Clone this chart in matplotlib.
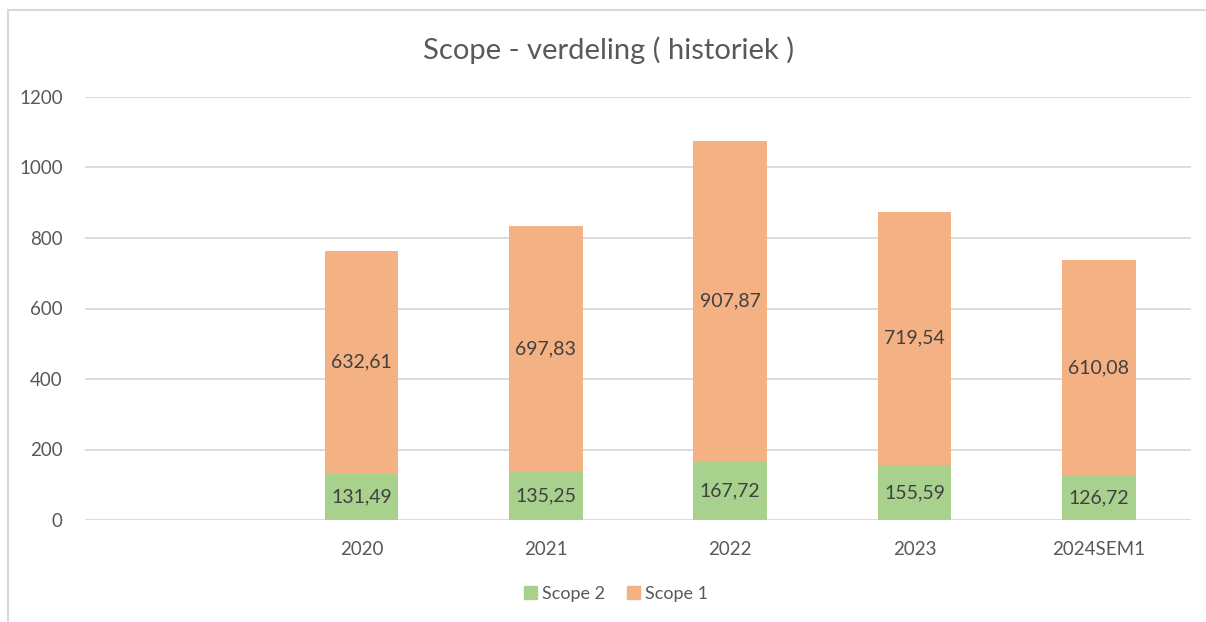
import numpy as np
import matplotlib
matplotlib.use("Agg")
import matplotlib.pyplot as plt
from matplotlib.lines import Line2D
from matplotlib.patches import Patch

categories = ["", "2020", "2021", "2022", "2023", "2024SEM1"]
scope2 = [np.nan, 131.49, 135.25, 167.72, 155.59, 126.72]
scope1 = [np.nan, 632.61, 697.83, 907.87, 719.54, 610.08]
yticks = [0, 200, 400, 600, 800, 1000, 1200]

GREEN = "#A9D18E"
ORANGE = "#F4B183"
TXT = "#595959"
GRID = "#D9D9D9"

plt.rcParams['font.family'] = ['Lato', 'DejaVu Sans']

fig = plt.figure(figsize=(12.06, 6.22), dpi=100)
ax = fig.add_axes([85/1206, 1-520/622, (1191-85)/1206, (520-97)/622])

x = np.arange(len(categories))
s2 = np.array(scope2, dtype=float)
s1 = np.array(scope1, dtype=float)
w = 0.4
ax.bar(x, s2, width=w, color=GREEN, label="Scope 2", zorder=3)
ax.bar(x, s1, width=w, bottom=s2, color=ORANGE, label="Scope 1", zorder=3)

def fmt(v):
    return f"{v:.2f}".replace(".", ",")

for xi, a, b in zip(x, s2, s1):
    if np.isnan(a):
        continue
    ax.text(xi, a/2, fmt(a), ha="center", va="center", fontsize=14, color="#404040", zorder=4)
    ax.text(xi, a + b/2, fmt(b), ha="center", va="center", fontsize=14, color="#404040", zorder=4)

ax.set_xlim(-0.5, len(categories)-0.5)
ax.set_ylim(0, 1200)
ax.set_yticks(yticks)
ax.set_yticklabels([str(t) for t in yticks])
ax.set_xticks(x)
ax.set_xticklabels(categories)
ax.tick_params(axis="both", length=0, labelsize=13.5, colors=TXT)
ax.tick_params(axis="y", pad=16)
ax.tick_params(axis="x", pad=15)
ax.grid(axis="y", color=GRID, linewidth=1.3, zorder=0)
for s in ax.spines.values():
    s.set_visible(False)

fig.text(0.505, 1-50/622, "Scope - verdeling ( historiek )", ha="center", va="center",
         fontsize=21, color=TXT)

handles = [Patch(color=GREEN, label="Scope 2"), Patch(color=ORANGE, label="Scope 1")]
fig.legend(handles=handles, loc="center", bbox_to_anchor=(0.511, 1-594/622), ncol=2,
           frameon=False, fontsize=13, labelcolor=TXT, handlelength=0.7, handleheight=0.7,
           handletextpad=0.3, columnspacing=1.2)

fig.add_artist(Line2D([8/1206, 1], [1-10/622, 1-10/622], color=GRID, linewidth=1.5))
fig.add_artist(Line2D([8/1206, 8/1206], [0, 1-10/622], color=GRID, linewidth=1.5))

fig.savefig("out.png", dpi=100, facecolor="white")
